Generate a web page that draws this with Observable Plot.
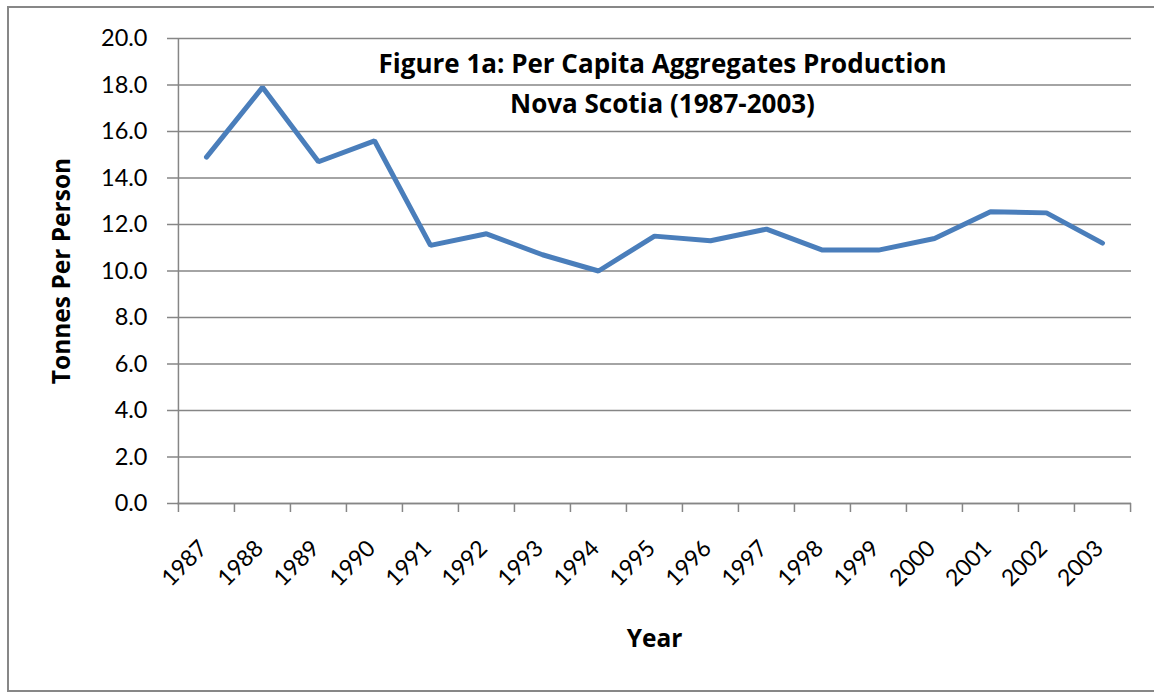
<!DOCTYPE html>
<html><head><meta charset="utf-8">
<script src="https://cdn.jsdelivr.net/npm/d3@7"></script>
<script src="https://cdn.jsdelivr.net/npm/@observablehq/plot@0.6"></script>
<style>
body{margin:0;background:#fff;overflow:hidden;}
#wrap{position:relative;width:1154px;height:694px;overflow:hidden;}
#wrap svg{position:absolute;left:0;top:0;}
#border{position:absolute;left:7px;top:6px;width:1170px;height:686px;border:2px solid #878787;box-sizing:border-box;pointer-events:none;}
</style></head><body><div id="wrap"><div id="border"></div></div>
<script>
const years = ["1987","1988","1989","1990","1991","1992","1993","1994","1995","1996","1997","1998","1999","2000","2001","2002","2003"];
const tonnesPerPerson = [14.9,17.9,14.7,15.6,11.1,11.6,10.7,10.0,11.5,11.3,11.8,10.9,10.9,11.4,12.55,12.5,11.2];
const yTicks = [0,2,4,6,8,10,12,14,16,18,20];
const titleLines = ["Figure 1a: Per Capita Aggregates Production","Nova Scotia (1987-2003)"];
const xLabel = "Year";
const yLabel = "Tonnes Per Person";

const data = years.map((year, i) => ({year, value: tonnesPerPerson[i]}));

const W = 1154, H = 694, mL = 177, mR = 23, mT = 38, mB = 191;
const step = (W - mL - mR) / years.length;
const gray = "#868686";
const font = "Lato, 'Open Sans', sans-serif";
const titleFont = "'Open Sans', Lato, sans-serif";

const chart = Plot.plot({
  width: W, height: H,
  marginLeft: mL, marginRight: mR, marginTop: mT, marginBottom: mB,
  style: {fontFamily: font, background: "transparent", color: "black", overflow: "visible"},
  x: {type: "point", domain: years, padding: 0.5, axis: null},
  y: {domain: [0, 20], axis: null},
  marks: [
    Plot.gridY(yTicks, {stroke: gray, strokeOpacity: 1, strokeWidth: 1.5}),
    Plot.axisY({ticks: yTicks, tickSize: 10, tickPadding: 20, tickFormat: d => d.toFixed(1), fontSize: 23.5, stroke: gray, strokeOpacity: 1, strokeWidth: 1.5, fill: "black", label: null}),
    Plot.ruleX([years[0]], {dx: -step / 2, y1: 0, y2: 20, stroke: gray, strokeWidth: 1.5}),
    Plot.ruleY([0], {stroke: gray, strokeWidth: 1.5}),
    Plot.axisX({ticks: years, tickSize: 9, dx: -step / 2, tickFormat: () => "", stroke: gray, strokeOpacity: 1, strokeWidth: 1.5, label: null}),
    Plot.axisX({ticks: [years[years.length - 1]], tickSize: 9, dx: step / 2, tickFormat: () => "", stroke: gray, strokeOpacity: 1, strokeWidth: 1.5, label: null}),
    Plot.text(years, {x: d => d, frameAnchor: "bottom", dx: -3, dy: 41, rotate: -45, textAnchor: "end", lineAnchor: "middle", fontSize: 23, fill: "black"}),
    Plot.line(data, {x: "year", y: "value", stroke: "#4a7ebb", strokeWidth: 5, strokeLinejoin: "miter", strokeLinecap: "round"}),
    Plot.text([titleLines.join("\n")], {frameAnchor: "top", dx: 8, dy: 42, textAnchor: "middle", lineAnchor: "middle", lineHeight: 1.54, fontFamily: titleFont, fontSize: 26, fontWeight: "bold", fill: "black"}),
    Plot.text([yLabel], {frameAnchor: "left", dx: -115, rotate: -90, textAnchor: "middle", lineAnchor: "middle", fontFamily: titleFont, fontSize: 24.5, fontWeight: "bold", fill: "black"}),
    Plot.text([xLabel], {frameAnchor: "bottom", dy: 136, textAnchor: "middle", lineAnchor: "middle", fontFamily: titleFont, fontSize: 24.5, fontWeight: "bold", fill: "black"})
  ]
});
document.getElementById("wrap").prepend(chart);
</script>
</body></html>
